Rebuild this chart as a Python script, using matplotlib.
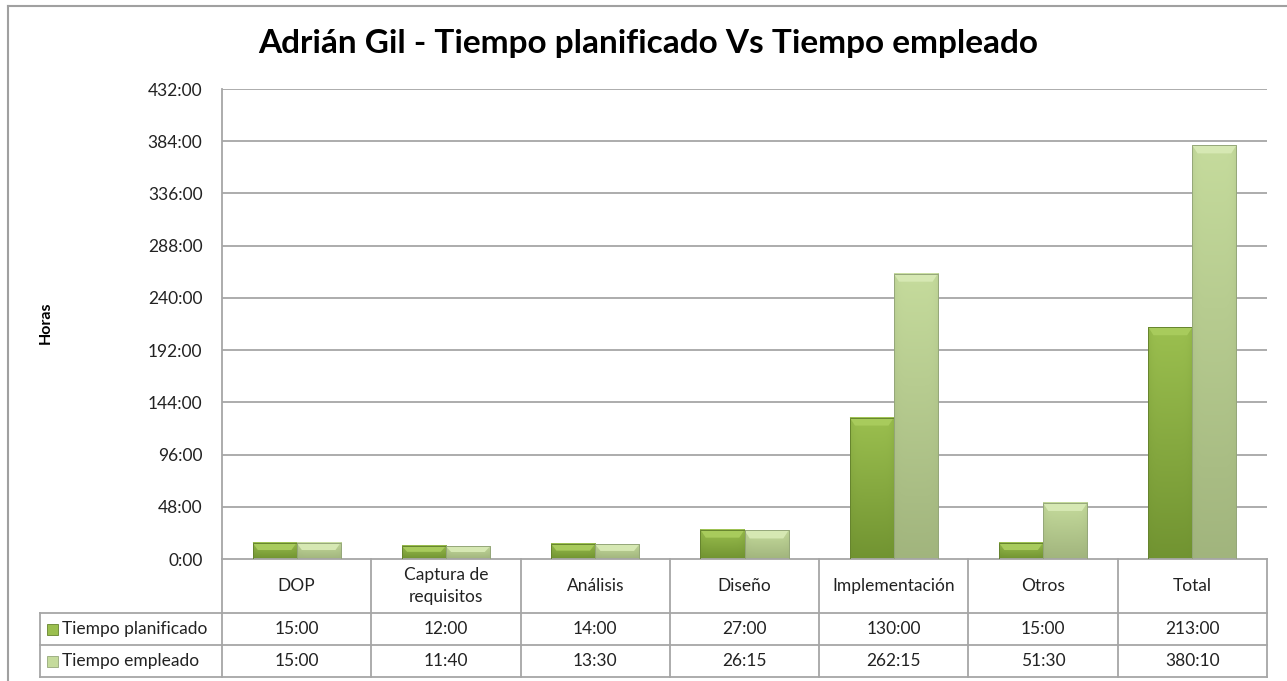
import numpy as np
import matplotlib.pyplot as plt
from matplotlib.patches import Polygon, Rectangle
from matplotlib.colors import LinearSegmentedColormap
from matplotlib.lines import Line2D

plt.rcParams['font.family'] = ['Lato', 'DejaVu Sans']

# Datos del gráfico
categorias = ["DOP", "Captura de\nrequisitos", "Análisis", "Diseño",
              "Implementación", "Otros", "Total"]
series = ["Tiempo planificado", "Tiempo empleado"]
planificado = ["15:00", "12:00", "14:00", "27:00", "130:00", "15:00", "213:00"]
empleado = ["15:00", "11:40", "13:30", "26:15", "262:15", "51:30", "380:10"]
y_ticks = list(range(0, 433, 48))


def a_horas(txt):
    h, m = txt.split(":")
    return int(h) + int(m) / 60


horas_plan = [a_horas(t) for t in planificado]
horas_emp = [a_horas(t) for t in empleado]

# colores: (bisel, arriba, abajo, borde)
estilos = [
    ("#a8cb5c", "#9bbf4f", "#6a8c2c", "#66842e"),
    ("#d6e8b3", "#c5db9c", "#9bae78", "#95a77a"),
]

fig = plt.figure(figsize=(12.87, 6.81), dpi=100)
W, H = 1287, 681
left, right, top, bottom = 222, 1267, 89, 559
ax = fig.add_axes([left / W, 1 - bottom / H, (right - left) / W, (bottom - top) / H])

n = len(categorias)
ax.set_xlim(0, n)
ax.set_ylim(0, 432)

for y in y_ticks[1:]:
    ax.axhline(y, color="#a6a6a6", lw=1.3, zorder=0)

ancho = 0.295
ppy = (bottom - top) / 432  # pixeles por hora


def barra(x0, h, estilo):
    bisel, c_top, c_bot, borde = estilo
    cmap = LinearSegmentedColormap.from_list("g", [c_bot, c_top])
    vert = np.linspace(1, 0, 64)[:, None]
    horiz = 1 - 0.2 * (np.abs(np.linspace(-1, 1, 32))[None, :] ** 6)
    img = (vert * 0.85 + 0.15) * horiz
    ax.imshow(img, cmap=cmap, extent=(x0, x0 + ancho, 0, h), aspect="auto",
              vmin=0, vmax=1, zorder=2, interpolation="bilinear")
    bh = min(8 / ppy, 0.45 * h)
    dx = 0.035
    ax.add_patch(Polygon([(x0, h), (x0 + ancho, h), (x0 + ancho - dx, h - bh),
                          (x0 + dx, h - bh)], closed=True, fc=bisel, ec="none",
                         zorder=3))
    ax.add_patch(Rectangle((x0, 0), ancho, h, fc="none", ec=borde, lw=0.7,
                           zorder=4))


for i in range(n):
    c = i + 0.5
    barra(c - ancho, horas_plan[i], estilos[0])
    barra(c, horas_emp[i], estilos[1])

ax.set_xlim(0, n)
ax.set_ylim(0, 432)
ax.set_yticks(y_ticks)
ax.set_yticklabels([f"{v}:00" for v in y_ticks])
ax.set_xticks([])
ax.tick_params(axis="y", length=0, pad=14, labelsize=12.5, labelcolor="#222222")
for s in ["top", "right", "bottom"]:
    ax.spines[s].set_visible(False)
ax.spines["left"].set_color("#a6a6a6")
ax.spines["left"].set_linewidth(1.3)

# tabla de datos bajo el eje
tr = ax.get_xaxis_transform()
px = (right - left) / n
x_leg = -(left - 40) / px
fila = lambda ypx: -(ypx - bottom) / (bottom - top)
y_cab, y_f1, y_f2 = fila(613), fila(645), fila(677)
lc = "#a6a6a6"
kw = dict(color=lc, lw=1.3, transform=tr, clip_on=False)
ax.add_line(Line2D([0, n], [0, 0], **kw))
ax.add_line(Line2D([x_leg, n], [y_cab, y_cab], **kw))
ax.add_line(Line2D([x_leg, n], [y_f1, y_f1], **kw))
ax.add_line(Line2D([x_leg, n], [y_f2, y_f2], **kw))
ax.add_line(Line2D([x_leg, x_leg], [y_cab, y_f2], **kw))
for i in range(n + 1):
    ax.add_line(Line2D([i, i], [0, y_f2], **kw))

fs = 12.5
for i, cat in enumerate(categorias):
    ax.text(i + 0.5, y_cab / 2, cat, transform=tr, ha="center", va="center",
            fontsize=fs, color="#222222", linespacing=1.45)
    ax.text(i + 0.5, (y_cab + y_f1) / 2, planificado[i], transform=tr,
            ha="center", va="center", fontsize=fs, color="#222222")
    ax.text(i + 0.5, (y_f1 + y_f2) / 2, empleado[i], transform=tr,
            ha="center", va="center", fontsize=fs, color="#222222")

for j, (nombre, yc) in enumerate(zip(series, [(y_cab + y_f1) / 2, (y_f1 + y_f2) / 2])):
    bisel, c_top, c_bot, borde = estilos[j]
    kx = x_leg + 7 / px
    kh = 11 / (bottom - top)
    ax.add_patch(Rectangle((kx, yc - kh / 2), 11 / px, kh, transform=tr,
                           fc=c_top, ec=borde, lw=0.6, clip_on=False))
    ax.text(x_leg + 22 / px, yc, nombre, transform=tr, ha="left", va="center",
            fontsize=fs, color="#222222")

# marco exterior del gráfico
fig.add_artist(Line2D([8 / W, 8 / W], [0, 1 - 6 / H], color="#a0a0a0", lw=1.5,
                      transform=fig.transFigure))
fig.add_artist(Line2D([8 / W, 1], [1 - 6 / H, 1 - 6 / H], color="#a0a0a0", lw=1.5,
                      transform=fig.transFigure))

fig.text(648 / W, 1 - 44 / H, "Adrián Gil - Tiempo planificado Vs Tiempo empleado",
         ha="center", va="center", fontsize=24, fontweight="bold")
fig.text(46 / W, 1 - 323 / H, "Horas", rotation=90, ha="center", va="center",
         fontsize=11.5, fontweight="bold")

fig.savefig("out.png", dpi=100)
